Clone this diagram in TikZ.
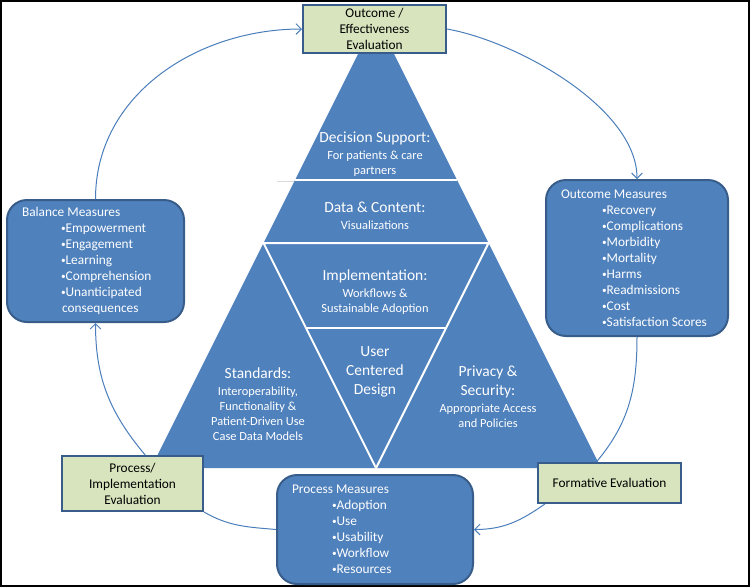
\documentclass[tikz,border=0pt]{standalone}
\usepackage{fontspec}
\setmainfont{Carlito}
\usetikzlibrary{arrows.meta}
\definecolor{tri}{HTML}{4F81BD}
\definecolor{rim}{HTML}{385D8A}
\definecolor{evalgreen}{HTML}{D7E4BD}
\definecolor{cycblue}{HTML}{4A7EBB}
\newlength\px
\setlength\px{0.75pt}
\newcommand\bigf{\fontsize{11.6}{14.3}\selectfont}
\newcommand\smallf{\fontsize{9.3}{11.3}\selectfont}
\newcommand\boxf{\fontsize{10}{12}\selectfont}
\newcommand\bul{{\fontsize{7}{8}\selectfont\raisebox{0.6pt}{•}}}
\begin{document}
\begin{tikzpicture}[x=0.75pt,y=-0.75pt,
	measure/.style={draw=rim,line width=1.5pt,fill=tri,rounded corners=15pt,text=white,align=flush left,inner xsep=15\px,font=\boxf},
	evalbox/.style={draw=rim,line width=1.5pt,fill=evalgreen,align=center,inner sep=0pt,font=\boxf},
	part/.style={text=white,align=center,font=\smallf},
	cyc/.style={draw=cycblue,line width=0.75pt},
	arr/.style={cyc,-{Straight Barb[length=4pt,width=8pt]}}]
	\useasboundingbox (0,0) rectangle (750,587);
	\draw[line width=1.5pt] (1,1) rectangle (748.5,585.5);

	\coordinate(A) at (376,18);
	\coordinate(B) at (151,468);
	\coordinate(C) at (601,468);
	\coordinate(AB) at (263.5,243);
	\coordinate(AC) at (488.5,243);
	\coordinate(BC) at (376,468);
	\fill[tri] (A) -- (B) -- (C) -- cycle;
	\draw[white,line width=1.5pt] (AB) -- (AC) -- (BC) -- cycle;
	\draw[white,line width=1.5pt] (295,180) -- (457,180);
	\draw[white,line width=1.5pt] (306,328) -- (446,328);
	\draw[black!15] (277,181) -- (294,181);

	\node(decision) [part] at (375,154) {{\bigf Decision Support:}\\[1.5pt]For patients \& care\\partners};
	\node(data) [part] at (375,216) {{\bigf Data \& Content:}\\[1.5pt]Visualizations};
	\node(impl) [part] at (375,292) {{\bigf Implementation:}\\[1.5pt]Workflows \&\\Sustainable Adoption};
	\node(ucd) [part,font=\bigf] at (375,372) {User\\Centered\\Design};
	\node(std) [part] at (258,404) {{\bigf Standards:}\\[1.5pt]Interoperability,\\Functionality \&\\Patient-Driven Use\\Case Data Models};
	\node(priv) [part] at (488,397) {{\bigf Privacy \&}\\[3pt]{\bigf Security:}\\[1.5pt]Appropriate Access\\and Policies};

	\node(outeval) [evalbox,minimum width=143\px,minimum height=48\px] at (374.5,29) {Outcome /\\Effectiveness\\Evaluation};
	\node(proceval) [evalbox,minimum width=141\px,minimum height=55\px] at (132.5,483.5) {Process/\\Implementation\\Evaluation};
	\node(formative) [evalbox,minimum width=143\px,minimum height=40\px] at (609.5,483) {Formative Evaluation};

	\node(balance) [measure,text width=147\px,minimum height=122\px] at (95.5,261) {Balance Measures\\
		\hspace*{39\px}\bul Empowerment\\
		\hspace*{39\px}\bul Engagement\\
		\hspace*{39\px}\bul Learning\\
		\hspace*{39\px}\bul Comprehension\\
		\hspace*{39\px}\bul Unanticipated\\
		\hspace*{40\px}consequences};
	\node(outcome) [measure,text width=152\px,minimum height=156\px] at (637,258) {Outcome Measures\\
		\hspace*{41\px}\bul Recovery\\
		\hspace*{41\px}\bul Complications\\
		\hspace*{41\px}\bul Morbidity\\
		\hspace*{41\px}\bul Mortality\\
		\hspace*{41\px}\bul Harms\\
		\hspace*{41\px}\bul Readmissions\\
		\hspace*{41\px}\bul Cost\\
		\hspace*{41\px}\bul Satisfaction Scores};
	\node(process) [measure,text width=166\px,minimum height=109\px] at (375,529.5) {Process Measures\\
		\hspace*{40\px}\bul Adoption\\
		\hspace*{40\px}\bul Use\\
		\hspace*{40\px}\bul Usability\\
		\hspace*{40\px}\bul Workflow\\
		\hspace*{40\px}\bul Resources};

	\draw[arr] (balance.north) to[out=90,in=180] (outeval.west);
	\draw[arr] (outeval.east) to[out=-10,in=90,looseness=0.75] (outcome.north);
	\draw[cyc] (outcome.south) to[out=-90,in=50] (formative.122);
	\draw[arr] (formative.198) to[out=-145,in=0] (process.east);
	\draw[cyc] (process.west) to[out=175,in=-30] (proceval.south east);
	\draw[arr] (proceval.66) to[out=130,in=-90] (balance.south);
\end{tikzpicture}
\end{document}
